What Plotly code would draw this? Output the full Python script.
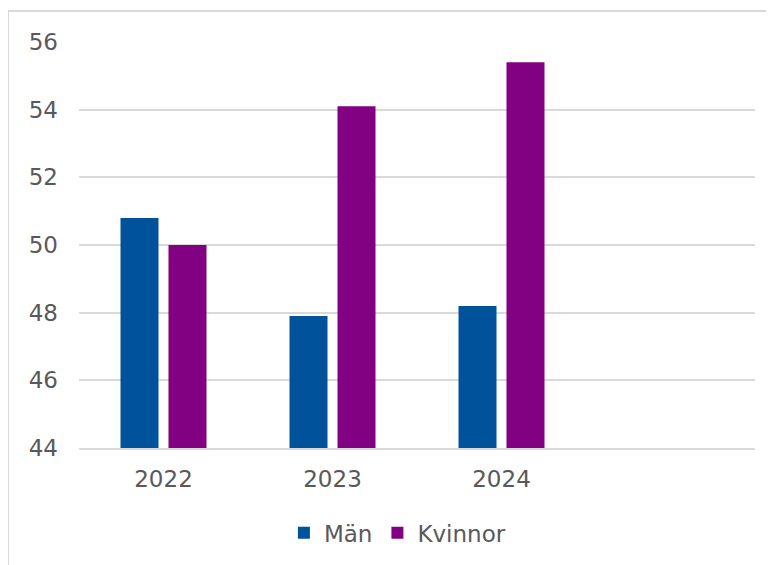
import plotly.graph_objects as go

years = ["2022", "2023", "2024"]
man = [50.8, 47.9, 48.2]
kvinnor = [50.0, 54.1, 55.4]
y_ticks = [44, 46, 48, 50, 52, 54, 56]

font = "Verdana, DejaVu Sans, sans-serif"
txt = "#595959"

# page body adds 8px offset; margins compensate
L, T, W, H = 71, 34, 676, 406

fig = go.Figure()
fig.add_bar(x=years, y=man, name="Män", marker=dict(color="#00539B", line_width=0))
fig.add_bar(x=years, y=kvinnor, name="Kvinnor", marker=dict(color="#820082", line_width=0))

fig.update_layout(
    width=774, height=565,
    margin=dict(l=L, r=774 - L - W, t=T, b=565 - T - H, autoexpand=False),
    paper_bgcolor="white", plot_bgcolor="white",
    barmode="group", bargap=0.432, bargroupgap=0.208,
    font=dict(family=font, size=23, color=txt),
    showlegend=True,
    legend=dict(orientation="h", x=0.471, xanchor="center", y=-0.209, yanchor="middle",
                font=dict(size=23, color=txt), itemwidth=30, traceorder="normal"),
    xaxis=dict(type="category", range=[-0.5, 3.5], showgrid=False, ticks="",
               showline=True, linecolor="#d9d9d9", linewidth=2,
               ticklabelstandoff=9, tickfont=dict(size=23, color=txt)),
    yaxis=dict(range=[44, 56], tickvals=y_ticks, showgrid=True, gridcolor="#d9d9d9",
               gridwidth=1.5, zeroline=False, showline=False, ticks="",
               ticklabelstandoff=20, tickfont=dict(size=23, color=txt)),
    shapes=[dict(type="rect", xref="paper", yref="paper",
                 x0=(0 - L) / W, x1=(800 - L) / W,
                 y0=-(600 - T - H) / H, y1=(T + H - 3) / H,
                 line=dict(color="#d9d9d9", width=2), layer="below")],
)

fig.write_html("out.html")
